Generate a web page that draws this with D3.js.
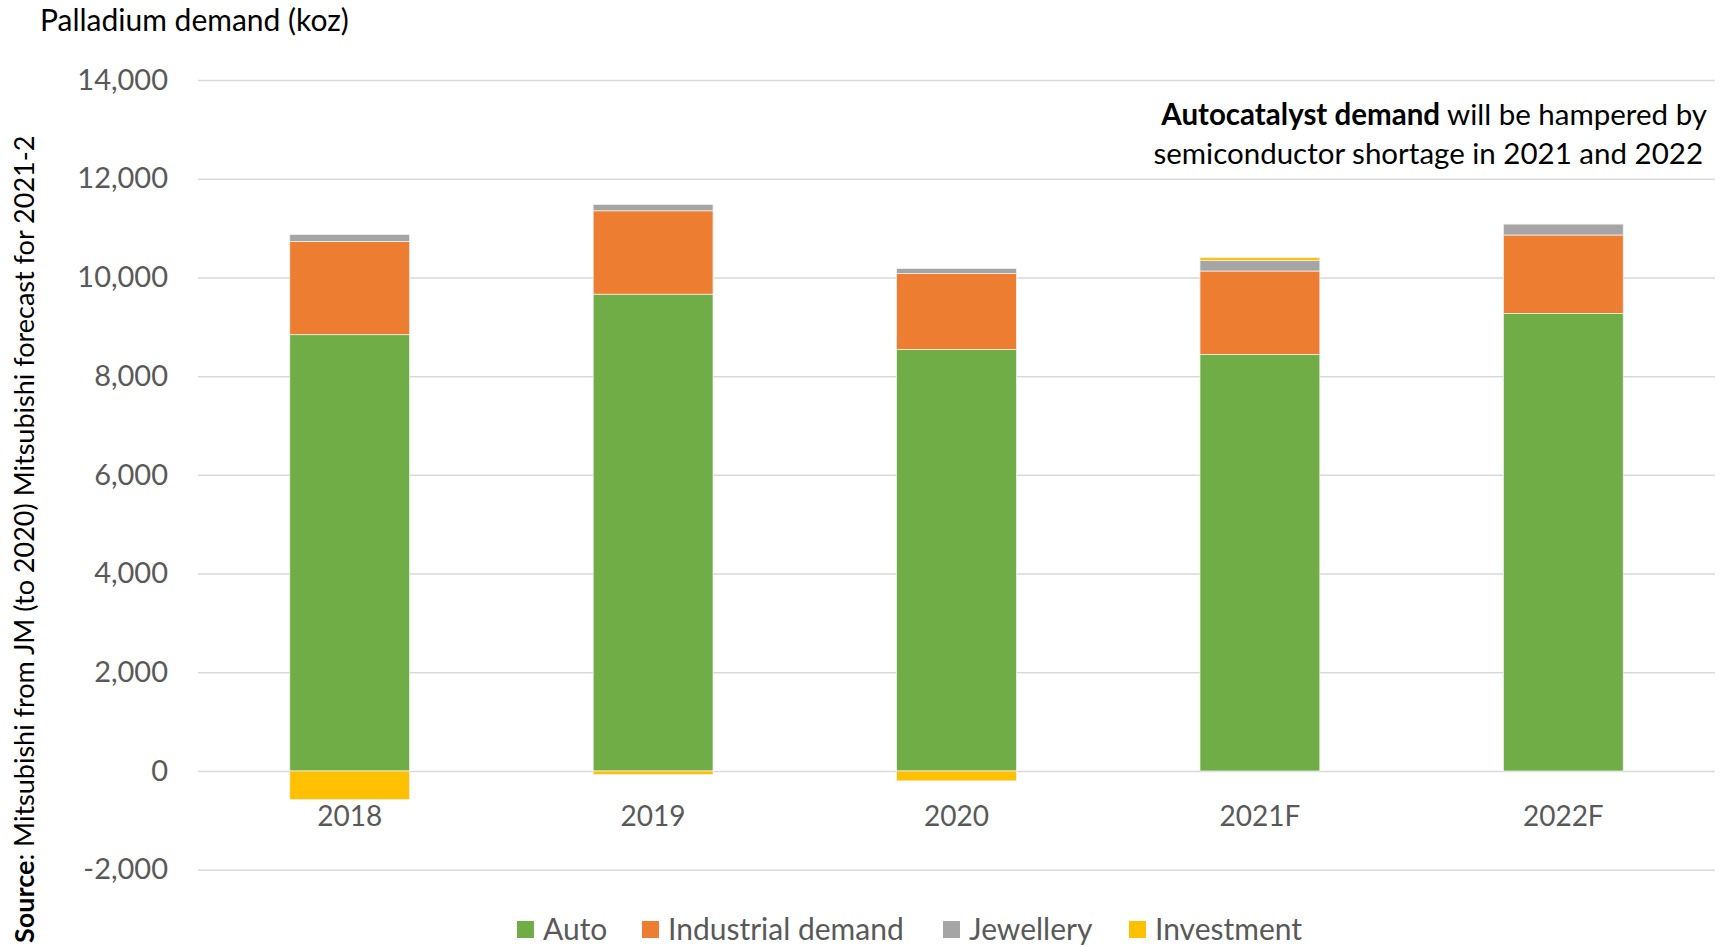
<!DOCTYPE html>
<html>
<head>
<meta charset="utf-8">
<script src="https://cdn.jsdelivr.net/npm/d3@7"></script>
<style>
  html, body { margin: 0; padding: 0; background: #fff; }
  svg { display: block; font-family: Lato, "Open Sans", sans-serif; }
</style>
</head>
<body>
<svg id="chart" width="1724" height="947"></svg>
<script>
const categories = ["2018", "2019", "2020", "2021F", "2022F"];
const seriesNames = ["Auto", "Industrial demand", "Jewellery", "Investment"];
const auto = [8840, 9660, 8540, 8440, 9270];
const industrial = [1890, 1690, 1540, 1690, 1590];
const jewellery = [140, 130, 100, 210, 220];
const investment = [-580, -70, -200, 60, 0];
const yTicks = [-2000, 0, 2000, 4000, 6000, 8000, 10000, 12000, 14000];
const colors = ["#70ad47", "#ed7d31", "#a5a5a5", "#ffc000"];

const rows = categories.map((c, i) => ({
  cat: c,
  "Auto": auto[i],
  "Industrial demand": industrial[i],
  "Jewellery": jewellery[i],
  "Investment": investment[i]
}));

const svg = d3.select("#chart");
const x = d3.scaleBand().domain(categories).range([198, 1715]).paddingInner(0.605).paddingOuter(0.3025);
const y = d3.scaleLinear().domain([-2000, 14000]).range([869.7, 80]);
const color = d3.scaleOrdinal().domain(seriesNames).range(colors);

// gridlines
const fmt = d3.format(",");
const yAxis = d3.axisLeft(y).tickValues(yTicks).tickSize(-(1715 - 198))
  .tickFormat(d => fmt(d).replace("\u2212", "-"));
const g = svg.append("g").attr("transform", "translate(198,0)").call(yAxis);
g.select(".domain").remove();
g.selectAll(".tick line").attr("stroke", "#d9d9d9").attr("stroke-width", 1.5);
g.selectAll(".tick text").attr("x", -30).attr("fill", "#595959")
  .style("font-size", "29px").style("font-family", "Lato, sans-serif");

// stacks
const stack = d3.stack().keys(seriesNames).offset(d3.stackOffsetDiverging);
const layers = stack(rows);
svg.append("g").selectAll("g").data(layers).join("g")
  .attr("fill", d => color(d.key))
  .selectAll("rect").data(d => d).join("rect")
  .attr("x", d => x(d.data.cat))
  .attr("width", x.bandwidth())
  .attr("y", d => y(Math.max(d[0], d[1])))
  .attr("height", d => Math.abs(y(d[0]) - y(d[1])))
  .attr("stroke", "#f2f2f2").attr("stroke-width", 0.75);

// x labels
const xAxis = d3.axisBottom(x).tickSize(0);
const xg = svg.append("g").attr("transform", "translate(0," + y(0) + ")").call(xAxis);
xg.select(".domain").remove();
xg.selectAll(".tick text").attr("y", 35).attr("dy", "0.71em").attr("fill", "#595959")
  .style("font-size", "28px").style("font-family", "Lato, sans-serif");

// title
svg.append("text").attr("x", 40).attr("y", 31).attr("fill", "#000")
  .style("font-size", "30px").text("Palladium demand (koz)");

// annotation
const ann = svg.append("text").attr("text-anchor", "end").attr("fill", "#000").style("font-size", "29.5px");
const l1 = ann.append("tspan").attr("x", 1707).attr("y", 125);
l1.append("tspan").attr("font-weight", "bold").text("Autocatalyst demand");
l1.append("tspan").text("  will be hampered by");
ann.append("tspan").attr("x", 1703).attr("y", 164).text("semiconductor shortage in 2021  and 2022");

// source rotated
const src = svg.append("text").attr("transform", "translate(34,943) rotate(-90)")
  .attr("fill", "#000").style("font-size", "27px");
src.append("tspan").attr("font-weight", "bold").text("Source");
src.append("tspan").text(": Mitsubishi from JM (to 2020) Mitsubishi forecast for 2021-2");

// legend
const legendX = [517, 642, 943, 1129];
const leg = svg.append("g").selectAll("g").data(seriesNames).join("g")
  .attr("transform", (d, i) => "translate(" + legendX[i] + ",921)");
leg.append("rect").attr("width", 17).attr("height", 17).attr("fill", d => color(d));
leg.append("text").attr("x", 26).attr("y", 8.5).attr("dy", "0.36em").attr("fill", "#595959")
  .style("font-size", "30px").text(d => d);
</script>
</body>
</html>
